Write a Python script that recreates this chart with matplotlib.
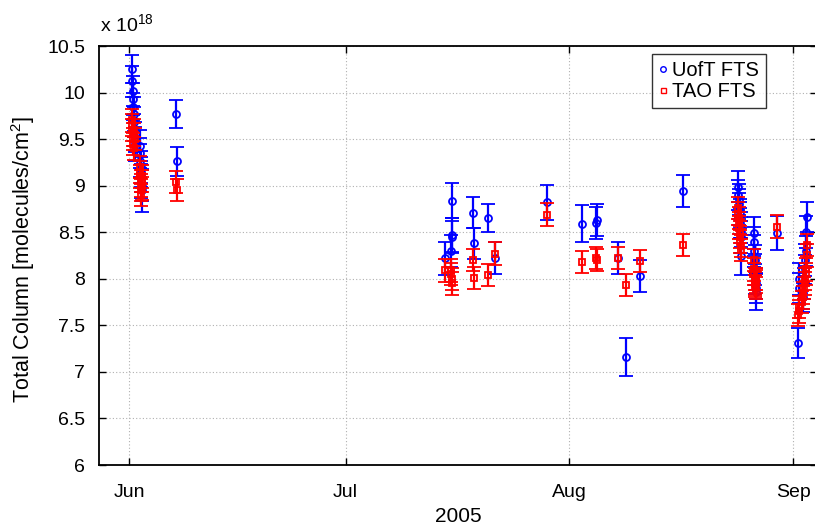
import numpy as np
import pandas as pd
import matplotlib
matplotlib.use("Agg")
import matplotlib.pyplot as plt
from matplotlib.lines import Line2D

plt.rcParams["font.family"] = ["Liberation Sans", "DejaVu Sans"]
plt.rcParams["mathtext.fontset"] = "custom"
plt.rcParams["mathtext.rm"] = "Liberation Sans"

# ── Data (total column, units of 1e18 molecules/cm^2) ────────────────────────
uoft_time = [
    "2005-06-01 10:00", "2005-06-01 11:00", "2005-06-01 12:00", "2005-06-01 13:00",
    "2005-06-01 14:00", "2005-06-01 15:00", "2005-06-01 16:00", "2005-06-01 17:00",
    "2005-06-01 18:00", "2005-06-01 19:00",
    "2005-06-02 11:00", "2005-06-02 12:00", "2005-06-02 13:00", "2005-06-02 14:00",
    "2005-06-02 15:00", "2005-06-02 16:00", "2005-06-02 17:00", "2005-06-02 18:00",
    "2005-06-02 19:00",
    "2005-06-07 13:00", "2005-06-07 14:00",
    "2005-07-14 18:00", "2005-07-15 15:00", "2005-07-15 16:00", "2005-07-15 17:00",
    "2005-07-15 18:00",
    "2005-07-18 17:00", "2005-07-18 18:00", "2005-07-20 18:00", "2005-07-21 16:00",
    "2005-07-28 20:00",
    "2005-08-02 18:00", "2005-08-04 18:00", "2005-08-04 19:00",
    "2005-08-07 19:00", "2005-08-08 19:00", "2005-08-10 19:00", "2005-08-16 17:00",
    "2005-08-24 09:00", "2005-08-24 10:00", "2005-08-24 11:00", "2005-08-24 12:00",
    "2005-08-24 13:00", "2005-08-24 14:00", "2005-08-24 15:00", "2005-08-24 16:00",
    "2005-08-24 17:00", "2005-08-24 18:00", "2005-08-24 19:00", "2005-08-24 20:00",
    "2005-08-26 13:00", "2005-08-26 14:00", "2005-08-26 15:00", "2005-08-26 16:00",
    "2005-08-26 17:00", "2005-08-26 18:00", "2005-08-26 19:00", "2005-08-26 20:00",
    "2005-08-26 21:00",
    "2005-08-29 17:00",
    "2005-09-01 16:00", "2005-09-01 18:00", "2005-09-01 20:00", "2005-09-02 08:00",
    "2005-09-02 10:00", "2005-09-02 12:00", "2005-09-02 14:00", "2005-09-02 16:00",
    "2005-09-02 18:00", "2005-09-02 20:00", "2005-09-02 22:00",
]
uoft_col = [
    10.25, 10.12, 10.02, 9.93, 9.85, 9.77, 9.68, 9.6, 9.52, 9.45,
    9.43, 9.35, 9.27, 9.2, 9.15, 9.1, 9.05, 9.0, 8.95,
    9.77, 9.26,
    8.22, 8.30, 8.84, 8.47, 8.45,
    8.71, 8.38, 8.65, 8.22,
    8.82,
    8.59, 8.60, 8.63,
    8.22, 7.16, 8.03, 8.94,
    8.99, 8.9, 8.85, 8.8, 8.75, 8.7, 8.65, 8.6, 8.55, 8.5, 8.45, 8.24,
    8.49, 8.4, 8.3, 8.2, 8.1, 8.0, 7.95, 7.9, 7.86,
    8.49,
    7.31, 8.0, 7.9, 7.85, 7.8, 7.95, 8.1, 8.2, 8.3, 8.5, 8.66,
]
uoft_err = [
    0.15, 0.17, 0.16, 0.17, 0.15, 0.18, 0.16, 0.17, 0.16, 0.18,
    0.17, 0.16, 0.18, 0.17, 0.16, 0.17, 0.18, 0.17, 0.23,
    0.15, 0.16,
    0.18, 0.17, 0.19, 0.18, 0.17,
    0.17, 0.17, 0.15, 0.17,
    0.19,
    0.2, 0.17, 0.17,
    0.17, 0.2, 0.17, 0.17,
    0.17, 0.16, 0.17, 0.16, 0.17, 0.16, 0.17, 0.16, 0.17, 0.16, 0.17, 0.2,
    0.17, 0.16, 0.17, 0.16, 0.17, 0.16, 0.17, 0.16, 0.19,
    0.18,
    0.16, 0.17, 0.16, 0.17, 0.16, 0.17, 0.16, 0.17, 0.16, 0.17, 0.16,
]

tao_time = [
    "2005-06-01 09:00", "2005-06-01 10:00", "2005-06-01 11:00", "2005-06-01 12:00",
    "2005-06-01 13:00", "2005-06-01 14:00", "2005-06-01 15:00", "2005-06-01 16:00",
    "2005-06-01 17:00", "2005-06-01 18:00",
    "2005-06-02 11:00", "2005-06-02 12:00", "2005-06-02 13:00", "2005-06-02 14:00",
    "2005-06-02 15:00", "2005-06-02 16:00", "2005-06-02 17:00", "2005-06-02 18:00",
    "2005-06-02 19:00", "2005-06-02 20:00",
    "2005-06-07 13:00", "2005-06-07 14:00",
    "2005-07-14 18:00", "2005-07-15 14:00", "2005-07-15 15:00", "2005-07-15 16:00",
    "2005-07-15 17:00",
    "2005-07-18 17:00", "2005-07-18 18:00", "2005-07-20 18:00", "2005-07-21 16:00",
    "2005-07-28 20:00",
    "2005-08-02 18:00", "2005-08-04 18:00", "2005-08-04 19:00",
    "2005-08-07 19:00", "2005-08-08 19:00", "2005-08-10 19:00", "2005-08-16 17:00",
    "2005-08-24 09:00", "2005-08-24 10:00", "2005-08-24 11:00", "2005-08-24 12:00",
    "2005-08-24 13:00", "2005-08-24 14:00", "2005-08-24 15:00", "2005-08-24 16:00",
    "2005-08-24 17:00", "2005-08-24 18:00",
    "2005-08-26 13:00", "2005-08-26 14:00", "2005-08-26 15:00", "2005-08-26 16:00",
    "2005-08-26 17:00", "2005-08-26 18:00", "2005-08-26 19:00", "2005-08-26 20:00",
    "2005-08-26 21:00",
    "2005-08-29 17:00",
    "2005-09-01 16:00", "2005-09-01 18:00", "2005-09-01 20:00", "2005-09-02 06:00",
    "2005-09-02 08:00", "2005-09-02 10:00", "2005-09-02 12:00", "2005-09-02 14:00",
    "2005-09-02 16:00", "2005-09-02 18:00", "2005-09-02 20:00", "2005-09-02 22:00",
    "2005-09-02 23:00",
]
tao_col = [
    9.7, 9.65, 9.6, 9.55, 9.5, 9.45, 9.4, 9.55, 9.6, 9.5,
    9.2, 9.15, 9.1, 9.05, 9.0, 8.95, 8.9, 9.05, 8.97, 9.1,
    9.04, 8.95,
    8.09, 8.05, 8.09, 8.0, 7.95,
    8.2, 8.01, 8.04, 8.27,
    8.69,
    8.18, 8.22, 8.2,
    8.22, 7.93, 8.19, 8.36,
    8.76, 8.7, 8.65, 8.6, 8.55, 8.5, 8.45, 8.4, 8.35, 8.31,
    8.2, 8.1, 8.05, 8.0, 7.95, 7.92, 7.9, 8.0, 7.97,
    8.56,
    7.61, 7.65, 7.7, 7.75, 7.8, 7.85, 7.9, 7.95, 8.0, 8.05, 8.1, 8.25, 8.36,
]
tao_err = [0.12] * len(tao_col)

month_ticks = ["2005-06-01", "2005-07-01", "2005-08-01", "2005-09-01"]
month_labels = ["Jun", "Jul", "Aug", "Sep"]

uoft_t = pd.to_datetime(uoft_time)
tao_t = pd.to_datetime(tao_time)

# ── Figure ───────────────────────────────────────────────────────────────────
fig = plt.figure(figsize=(8.15, 5.26), dpi=100)
ax = fig.add_axes([99 / 815, 61 / 526, 718 / 815, 419 / 526])

ax.errorbar(uoft_t, uoft_col, yerr=uoft_err, fmt="o", color="#0000ff",
            mfc="none", ms=5, mew=1.3, elinewidth=1.6, capsize=5, capthick=1.6,
            zorder=3)
ax.errorbar(tao_t, tao_col, yerr=tao_err, fmt="s", color="#ff0000",
            mfc="none", ms=4.5, mew=1.3, elinewidth=1.6, capsize=5, capthick=1.6,
            zorder=4)

x0 = pd.Timestamp("2005-06-01") - pd.Timedelta(days=4.17)
x1 = pd.Timestamp("2005-09-01") + pd.Timedelta(days=3.3)
ax.set_xlim(x0, x1)
ax.set_ylim(6, 10.5)

ax.set_xticks(pd.to_datetime(month_ticks))
ax.set_xticklabels(month_labels)
ax.set_yticks(np.arange(6, 10.51, 0.5))
ax.set_yticklabels(["6", "6.5", "7", "7.5", "8", "8.5", "9", "9.5", "10", "10.5"])

ax.tick_params(direction="in", length=5, width=1, labelsize=14, top=True,
               right=True)
ax.tick_params(axis="y", pad=10)
ax.tick_params(axis="x", pad=14)
for s in ax.spines.values():
    s.set_linewidth(1.3)

ax.grid(True, color="#b0b0b0", ls=(0, (1, 2)), lw=0.8)
ax.set_axisbelow(True)

ax.set_xlabel("2005", fontsize=15)
ax.xaxis.label.set_va("baseline")
ax.xaxis.set_label_coords(0.5007, -0.136)
ax.set_ylabel("Total Column [molecules/cm$^2$]", fontsize=15.5)
ax.yaxis.set_label_coords(-0.086, 0.49)
fig.text(100 / 815, 1 - 32 / 526, "x 10$^{18}$", fontsize=14, va="baseline",
         ha="left")

handles = [
    Line2D([], [], ls="none", marker="o", mfc="none", mec="#0000ff", ms=4, mew=1),
    Line2D([], [], ls="none", marker="s", mfc="none", mec="#ff0000", ms=3.6, mew=1),
]
leg = ax.legend(handles, ["UofT FTS", "TAO FTS"], loc="upper right",
                bbox_to_anchor=(0.929, 0.981), fontsize=14.5, frameon=True,
                fancybox=False, borderpad=0.35, handlelength=0.4,
                handletextpad=0.25, labelspacing=0.12, borderaxespad=0)
leg.get_frame().set_edgecolor("black")
leg.get_frame().set_linewidth(1.0)

fig.savefig("out.png", dpi=100)
